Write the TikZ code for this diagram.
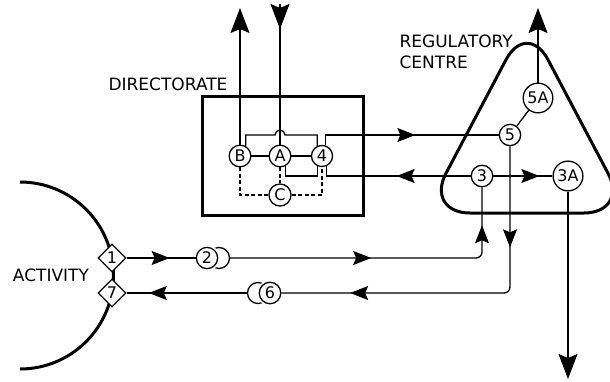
\documentclass[tikz,border=0pt]{standalone}
\usepackage{fontspec}
\setmainfont{DejaVu Sans}
\usetikzlibrary{shapes.geometric,arrows.meta,decorations.markings}

\begin{document}
\begin{tikzpicture}[x=1pt,y=-1pt,
        every node/.style={font=\fontsize{16}{19}\selectfont},
        unit/.style={circle,draw,fill=white,line width=1.3pt,inner sep=2pt,minimum size=21pt},
        port/.style={diamond,draw,fill=white,line width=1.3pt,inner sep=0pt,minimum size=28pt},
        caption/.style={font=\fontsize{17}{21}\selectfont,align=left},
        flow/.style={line width=1.3pt},
        ctl/.style={line width=1.3pt,dash pattern=on 4pt off 2.5pt},
        heavy/.style={line width=3pt},
        fhead/.tip={Stealth[length=18pt,width=14pt,inset=3pt]},
        bighead/.tip={Stealth[length=25pt,width=19pt,inset=4pt]},
        tipat/.style={postaction={decorate,decoration={markings,mark=at position #1 with {\arrow{fhead}}}}}
    ]

    \useasboundingbox (0,0) rectangle (610,381);

    % frames
    \draw[heavy] (202,96) rectangle (363,215);
    \draw[heavy,rounded corners=45pt] (527,213) -- (629,213) -- (527,20) -- (425,213) -- cycle;
    \draw[heavy] (20,182) arc[start angle=-90,end angle=90,radius=93.5];

    % captions
    \node[caption] (act) at (51,275) {ACTIVITY};
    \node[caption] (dir) at (168,84) {DIRECTORATE};
    \node[caption,anchor=west] (reg) at (396,52) {REGULATORY\\CENTRE};

    \coordinate (upper) at (0,135);
    \coordinate (lower) at (0,176);
    \coordinate (ctlrow) at (0,195);

    % directorate
    \node[unit] (B) at (240,156) {B};
    \node[unit] (A) at (280,156) {A};
    \node[unit] (4) at (322,156) {4};
    \node[unit] (C) at (280,195) {C};

    % regulatory centre
    \node[unit] (5) at (510,135) {5};
    \node[unit] (5A) at (538,98) {5A};
    \node[unit] (3) at (482,176) {3};
    \node[unit] (3A) at (568,176) {3A};

    % activity
    \node[port] (1) at (112,258) {1};
    \node[port] (7) at (112,293) {7};
    \node[unit] (g2) at (219,258) {};
    \fill[white] (207,258) circle (13);
    \node[unit] (2) at (207,258) {2};
    \node[unit] (g6) at (258,293) {};
    \fill[white] (270,293) circle (13);
    \node[unit] (6) at (270,293) {6};

    \coordinate (outB) at (240,8);
    \coordinate (inA) at (280,4);
    \coordinate (out5A) at (538,8);
    \coordinate (out3A) at (568,379);

    % lines inside the directorate
    \draw[flow] (B) -- (A) -- (4);
    \draw[flow] (B.60) -- (B.60 |- upper) -- (275,135) arc[start angle=180,end angle=360,radius=5]
        -- (4.115 |- upper) -- (4.115);
    \draw[flow] (A.300) -- (A.300 |- lower) -- (4.245 |- lower) -- (4.245);
    \draw[ctl] (B.south) -- (B.south |- ctlrow) -- (C.west);
    \draw[ctl] (C.east) -- (4.south |- ctlrow) -- (4.south);
    \draw[ctl] (A.south) -- (C.north);
    \draw[flow,-bighead] (B.north) -- (outB);
    \draw[flow,postaction={decorate,decoration={markings,mark=at position 25pt with {\arrow{bighead}}}}]
        (inA) -- (A.north);

    % between the two
    \draw[flow,tipat=100pt] (4.70) -- (4.70 |- upper) -- (5.west);
    \draw[flow,tipat=74pt] (3.west) -- (4.295 |- lower) -- (4.295);

    % regulatory centre
    \draw[flow] (5) -- (5A);
    \draw[flow,-bighead] (5A.north) -- (out5A);
    \draw[flow,tipat=46pt] (3.east) -- (3A.west);
    \draw[flow,-bighead] (3A.south) -- (out3A);

    % activity loops
    \draw[flow,tipat=43pt] (1.east) -- (2.west);
    \draw[flow,rounded corners=6pt,tipat=141pt,tipat=282pt] (g2.east) -- (482,258) -- (3.south);
    \draw[flow,rounded corners=6pt,tipat=101pt,tipat=304pt] (5.south) -- (510,293) -- (6.east);
    \draw[flow,tipat=98pt] (g6.west) -- (7.east);

\end{tikzpicture}
\end{document}
